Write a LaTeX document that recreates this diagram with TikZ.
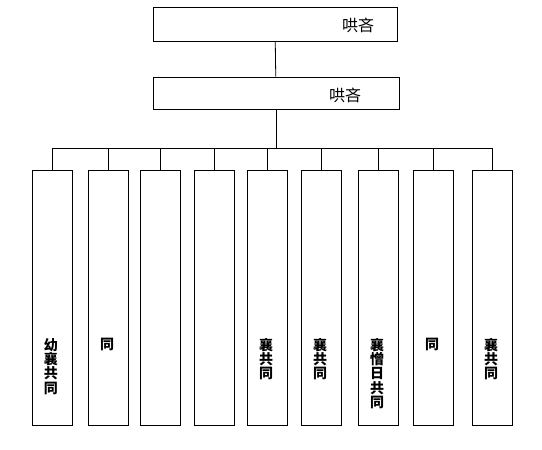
\documentclass[tikz,border=0pt]{standalone}
\usepackage{fontspec}
\newfontfamily\cjk{Noto Sans CJK SC}
\begin{document}
\begin{tikzpicture}[x=1pt,y=-1pt,
	box/.style={draw=black, line width=0.8pt, fill=white, inner sep=0pt},
	lbl/.style={font=\cjk\fontsize{16}{18}\selectfont, inner sep=0pt},
	vlbl/.style={font=\cjk\bfseries\fontsize{14}{14.3}\selectfont, inner sep=0pt,
		align=center, anchor=north}]
	
	\useasboundingbox (0,0) rectangle (542,450); % Fixes the page size...
	
	\def\w{40};   % width of a unit box
	\def\top{170};
	\def\bot{425};
	
	% the two boxes at the top
	\node[box, minimum width=244pt, minimum height=34pt] (head) at (275,24) {};
	\node[lbl] (headlbl) at (358,25) {哄吝};
	
	\node[box, minimum width=246pt, minimum height=32pt] (sub) at (276,93) {};
	\node[lbl] (sublbl) at (345,95) {哄吝};
	
	\draw[line width=0.8pt] (head) -- (sub);
	
	% The nine units, with the tail of their vertical text
	\foreach \l/\t [count=\i] in {32/{幼\\襄\\共\\同}, 88/{同}, 140/{}, 194/{},
		247/{襄\\共\\同}, 301/{襄\\共\\同}, 358/{襄\\憎\\日\\共\\同},
		413/{同}, 472/{襄\\共\\同}}{%
		\node[box, minimum width=\w pt, minimum height=\bot pt-\top pt]
			(unit\i) at (\l+0.5*\w,0.5*\top+0.5*\bot) {};
		\node[vlbl] (unitlbl\i) at (\l+0.5*\w-1,338) {\t};
	}
	
	\coordinate (bus) at (276,148);
	\draw[line width=0.8pt] (sub) -- (bus);
	\foreach \i in {1,...,9}{% one drop per unit
		\draw[line width=0.8pt] (bus) -| (unit\i.north);
	}
	
\end{tikzpicture}
\end{document}
